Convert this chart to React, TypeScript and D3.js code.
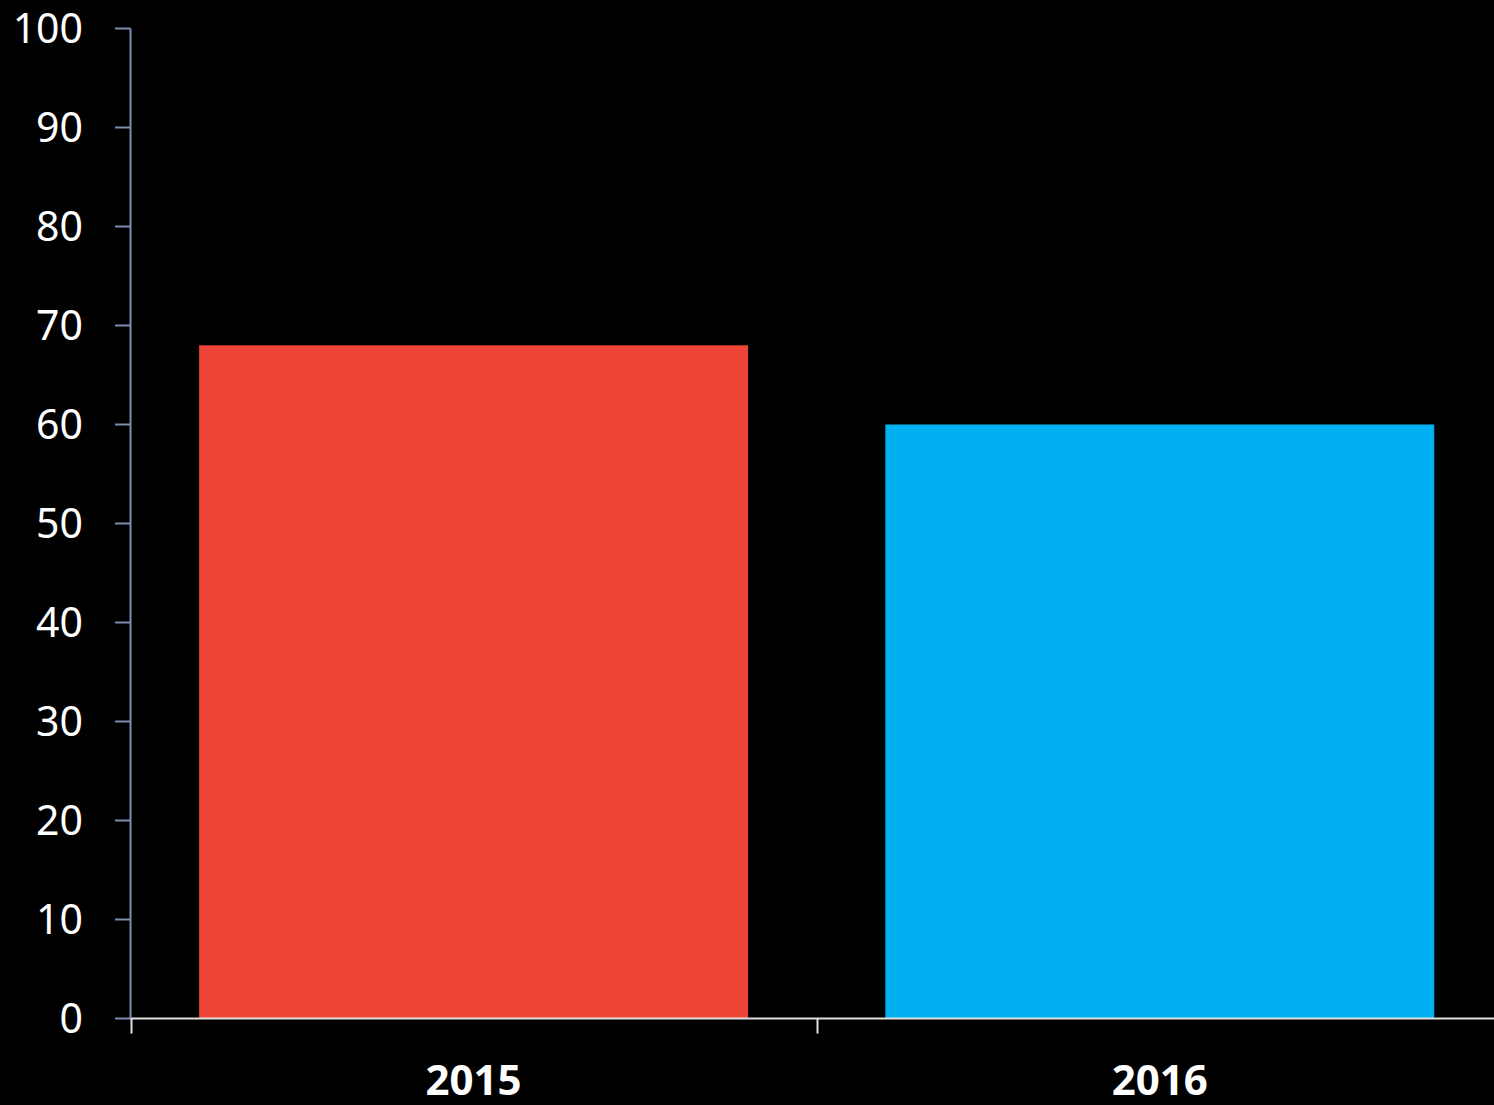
import React from "react";
import * as d3 from "d3";

const categories = ["2015", "2016"];
const values = [68, 60];
const barColors = ["#EF4438", "#00B0F0"];
const yTicks = [0, 10, 20, 30, 40, 50, 60, 70, 80, 90, 100];

const W = 1494;
const H = 1105;

export default function App() {
  const x = d3.scaleBand<string>().domain(categories).range([130.5, 1502.9]).paddingInner(0.2).paddingOuter(0.1);
  const y = d3.scaleLinear().domain([0, 100]).range([1018.5, 28.5]);
  const font = "'Noto Sans', sans-serif";
  const step = x.step();
  const bandStarts = categories.map((c) => (x(c) as number) - step * 0.1);
  return (
    <div style={{ position: "absolute", left: 0, top: 0, width: W, height: H, background: "#000" }}>
      <svg width={W} height={H} style={{ display: "block" }}>
        <rect x={0} y={0} width={W} height={H} fill="#000" />
        {categories.map((c, i) => (
          <rect key={c} x={x(c)} y={y(values[i])} width={x.bandwidth()} height={y(0) - y(values[i])} fill={barColors[i]} />
        ))}
        {/* y axis */}
        <line x1={130.5} x2={130.5} y1={y(100)} y2={y(0)} stroke="#7C8FB0" strokeWidth={2} />
        {yTicks.map((t) => (
          <g key={t}>
            <line x1={115} x2={130.5} y1={y(t)} y2={y(t)} stroke="#7C8FB0" strokeWidth={2} />
            <text x={83} y={y(t)} dy="0.35em" textAnchor="end" fill="#fff" fontFamily={font} fontSize={41}>
              {t}
            </text>
          </g>
        ))}
        {/* x axis */}
        <line x1={130.5} x2={W} y1={y(0)} y2={y(0)} stroke="#E0E0E0" strokeWidth={2} />
        {bandStarts.map((bx, i) => (
          <line key={i} x1={Math.round(bx) + 0.5} x2={Math.round(bx) + 0.5} y1={y(0)} y2={y(0) + 15} stroke="#E0E0E0" strokeWidth={2} />
        ))}
        {categories.map((c) => (
          <text key={c} x={(x(c) as number) + x.bandwidth() / 2} y={1095} textAnchor="middle" fill="#fff" fontFamily={font} fontWeight="bold" fontSize={42}>
            {c}
          </text>
        ))}
      </svg>
    </div>
  );
}
